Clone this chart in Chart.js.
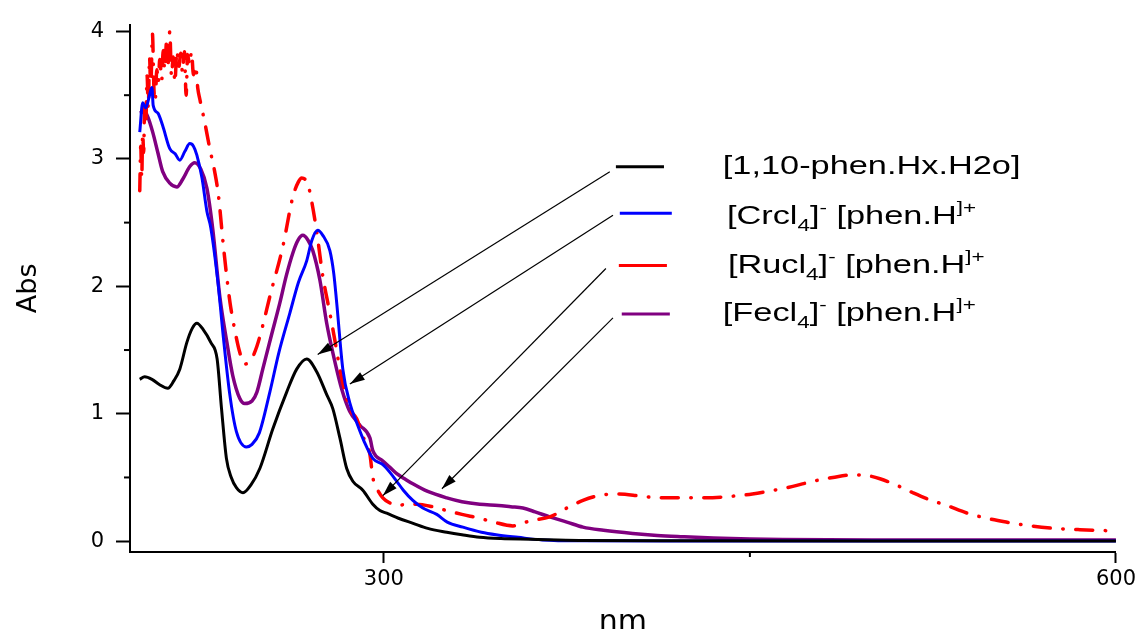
<!DOCTYPE html>
<html lang="en">
<head>
<meta charset="UTF-8">
<title>UV-Vis spectra</title>
<script src="https://cdn.jsdelivr.net/npm/chart.js@4.4.1/dist/chart.umd.min.js"></script>
<style>
  html, body { margin: 0; padding: 0; background: #fff; }
  #wrap { width: 1140px; height: 629px; position: relative; }
</style>
</head>
<body>
<div id="wrap"><canvas id="spec"></canvas></div>
<script>
// wavelength (nm) and absorbance
const phenNm  = [200, 202, 205, 208, 211.5, 214, 216.4, 219.3, 221.5, 223.4, 226, 229.1, 231.7, 233.5, 235.5, 237.5, 239.6, 242.3, 245.5, 249.2, 254.5, 260.2, 264.3, 268.4, 272.5, 276.6, 279.1, 282, 284.8, 287.3, 291.4, 295.5, 298.4, 301.2, 306, 312, 318, 325.8, 332, 339.3, 348, 360, 380, 420, 500, 600];
const phenAbs = [1.27, 1.29, 1.27, 1.23, 1.20, 1.26, 1.35, 1.56, 1.67, 1.71, 1.66, 1.56, 1.43, 1.04, 0.65, 0.50, 0.42, 0.38, 0.44, 0.57, 0.88, 1.17, 1.35, 1.43, 1.33, 1.15, 1.04, 0.81, 0.57, 0.47, 0.40, 0.29, 0.24, 0.22, 0.18, 0.14, 0.10, 0.07, 0.05, 0.03, 0.02, 0.015, 0.006, 0.003, 0.002, 0.002];

const crNm  = [200, 201.2, 202.5, 204, 205, 205.5, 207.4, 209.4, 212.3, 214.5, 216.4, 218.5, 220.5, 222, 223.4, 225.5, 227.5, 229.1, 232.1, 234.2, 236.9, 239.6, 243.7, 246, 249, 253.3, 257, 261.5, 265, 268.4, 270.5, 272.9, 275, 277.9, 279.5, 280.7, 283.2, 286, 289.3, 292, 295.5, 299.6, 302.5, 305.3, 308, 311.9, 316, 321.7, 326, 332.4, 340, 346, 355, 365, 380, 450, 600];
const crAbs = [3.21, 3.44, 3.40, 3.50, 3.56, 3.42, 3.36, 3.26, 3.08, 3.04, 2.99, 3.06, 3.12, 3.10, 3.03, 2.85, 2.59, 2.46, 2.02, 1.61, 1.15, 0.86, 0.74, 0.76, 0.85, 1.17, 1.48, 1.79, 2.03, 2.20, 2.36, 2.44, 2.40, 2.28, 2.10, 1.87, 1.35, 1.09, 0.91, 0.78, 0.65, 0.60, 0.54, 0.47, 0.40, 0.32, 0.26, 0.21, 0.15, 0.11, 0.07, 0.05, 0.03, 0.01, 0.003, 0.002, 0.002];

const ruNm  = [200, 200.4, 200.8, 201.2, 201.6, 202, 202.5, 203, 203.5, 204, 204.5, 205.2, 205.8, 206.3, 207, 207.6, 208.2, 209, 209.6, 210.2, 211, 211.6, 212.3, 213, 213.7, 214.4, 215.2, 216, 216.8, 217.5, 218.3, 219, 219.6, 220.4, 221.2, 222, 222.9, 223.8, 224.6, 226.6, 228.7, 230.7, 232.2, 234.2, 235.5, 237, 238.9, 241, 243, 245.5, 248, 250.5, 253.3, 258.6, 262.7, 265, 266.4, 268.9, 270.5, 272.5, 275, 277.9, 280, 282, 284, 286, 288.9, 291, 294.3, 295.5, 297, 299.6, 302.5, 305.3, 310, 313.5, 320, 325.8, 332, 339.3, 345, 352.9, 360, 368, 375, 381.6, 388.5, 395.5, 405, 413, 422, 432, 441, 451, 460, 467.6, 475.8, 484, 492.2, 498, 503.3, 510, 516.8, 523, 530.7, 539, 547, 555, 564.8, 575, 585.2, 600];
const ruAbs = [2.75, 3.10, 2.85, 3.20, 3.05, 3.45, 3.30, 3.65, 3.40, 3.80, 3.55, 3.98, 3.55, 3.45, 3.70, 3.60, 3.78, 3.62, 3.85, 3.70, 3.92, 3.75, 4.00, 3.65, 3.80, 3.60, 3.85, 3.72, 3.83, 3.68, 3.84, 3.50, 3.82, 3.74, 3.84, 3.66, 3.73, 3.55, 3.47, 3.29, 3.08, 2.90, 2.72, 2.33, 2.10, 1.87, 1.66, 1.48, 1.39, 1.42, 1.53, 1.70, 1.92, 2.31, 2.70, 2.82, 2.85, 2.80, 2.66, 2.43, 2.08, 1.79, 1.57, 1.35, 1.18, 1.04, 0.96, 0.84, 0.68, 0.50, 0.42, 0.34, 0.30, 0.28, 0.29, 0.29, 0.27, 0.24, 0.21, 0.18, 0.15, 0.12, 0.16, 0.19, 0.26, 0.32, 0.36, 0.37, 0.355, 0.34, 0.34, 0.34, 0.35, 0.37, 0.40, 0.43, 0.47, 0.50, 0.52, 0.515, 0.49, 0.44, 0.38, 0.33, 0.28, 0.22, 0.18, 0.15, 0.12, 0.10, 0.09, 0.08];

const feNm  = [200, 202, 203.3, 205.3, 207.4, 209.4, 212.3, 215.2, 217.6, 220.5, 222.5, 225, 227.5, 229.9, 232.8, 235.7, 238.1, 241, 243, 246, 248, 250.4, 254, 257.4, 260, 262.7, 264.8, 266.8, 269, 270.9, 273.8, 276.6, 279.1, 282.8, 286, 290.2, 294.3, 295.5, 299.6, 302.5, 305.3, 308.5, 311.9, 318, 325.8, 332, 339.3, 347, 352, 357, 362, 368, 375, 381.6, 390, 402, 412, 422.5, 435, 450, 463.5, 500, 600];
const feAbs = [3.36, 3.37, 3.33, 3.21, 3.05, 2.90, 2.81, 2.78, 2.84, 2.94, 2.97, 2.92, 2.77, 2.45, 1.92, 1.56, 1.30, 1.12, 1.08, 1.10, 1.17, 1.35, 1.62, 1.87, 2.08, 2.26, 2.36, 2.40, 2.36, 2.28, 2.05, 1.71, 1.48, 1.19, 1.02, 0.91, 0.81, 0.71, 0.63, 0.58, 0.53, 0.49, 0.45, 0.39, 0.34, 0.31, 0.29, 0.28, 0.27, 0.26, 0.23, 0.19, 0.15, 0.11, 0.085, 0.06, 0.045, 0.035, 0.025, 0.018, 0.014, 0.01, 0.01];

const seriesLabels = ['[1,10-phen.Hx.H2o]', '[Crcl4]- [phen.H]+', '[Rucl4]- [phen.H]+', '[Fecl4]- [phen.H]+'];
const seriesColors = ['#000000', '#0000ff', '#ff0000', '#800080'];

const xTicks = [300, 600];
const xMinorTicks = [450];
const yTicks = [0, 1, 2, 3, 4];
const yMinorTicks = [0.5, 1.5, 2.5, 3.5];

// legend pieces: text, n = normal, sub, sup
const legendParts = [
  [['[1,10-phen.Hx.H2o]', 'n']],
  [['[Crcl', 'n'], ['4', 'sub'], [']', 'n'], ['-', 'sup'], [' [phen.H', 'n'], [']+', 'sup']],
  [['[Rucl', 'n'], ['4', 'sub'], [']', 'n'], ['-', 'sup'], [' [phen.H', 'n'], [']+', 'sup']],
  [['[Fecl', 'n'], ['4', 'sub'], [']', 'n'], ['-', 'sup'], [' [phen.H', 'n'], [']+', 'sup']]
];
// legend placed in data units
const legendLineFrom = [395.1, 396.7, 396.3, 397.5];
const legendLineTo   = [414.8, 418.0, 416.0, 417.2];
const legendLineAbs  = [2.938, 2.574, 2.163, 1.783];
const legendTextNm   = [438.9, 440.6, 441.0, 438.9];
const legendTextAbs  = [2.884, 2.488, 2.101, 1.729];
// arrows from legend to curves
const arrowFromNm  = [392.6, 393.9, 391.0, 393.9];
const arrowFromAbs = [2.899, 2.558, 2.140, 1.752];
const arrowToNm    = [272.9, 286.1, 299.6, 323.8];
const arrowToAbs   = [1.465, 1.233, 0.357, 0.411];

function pts(xs, ys) {
  return xs.map((v, i) => ({ x: v, y: ys[i] }));
}

const annotate = {
  id: 'annotate',
  afterDatasetsDraw(chart) {
    const ctx = chart.ctx;
    const x = chart.scales.x, y = chart.scales.y;
    ctx.save();

    // minor ticks
    ctx.strokeStyle = '#000';
    ctx.lineWidth = 2;
    yMinorTicks.forEach(v => {
      const py = y.getPixelForValue(v);
      ctx.beginPath(); ctx.moveTo(x.left - 6, py); ctx.lineTo(x.left, py); ctx.stroke();
    });
    xMinorTicks.forEach(v => {
      const px = x.getPixelForValue(v);
      ctx.beginPath(); ctx.moveTo(px, y.bottom); ctx.lineTo(px, y.bottom + 5); ctx.stroke();
    });

    // arrows
    ctx.lineWidth = 1.2;
    ctx.fillStyle = '#000';
    for (let i = 0; i < arrowToNm.length; i++) {
      const x0 = x.getPixelForValue(arrowFromNm[i]), y0 = y.getPixelForValue(arrowFromAbs[i]);
      const x1 = x.getPixelForValue(arrowToNm[i]), y1 = y.getPixelForValue(arrowToAbs[i]);
      const a = Math.atan2(y1 - y0, x1 - x0);
      ctx.beginPath(); ctx.moveTo(x0, y0); ctx.lineTo(x1, y1); ctx.stroke();
      ctx.beginPath();
      ctx.moveTo(x1, y1);
      ctx.lineTo(x1 - 15 * Math.cos(a) + 4.5 * Math.sin(a), y1 - 15 * Math.sin(a) - 4.5 * Math.cos(a));
      ctx.lineTo(x1 - 15 * Math.cos(a) - 4.5 * Math.sin(a), y1 - 15 * Math.sin(a) + 4.5 * Math.cos(a));
      ctx.closePath();
      ctx.fill();
    }

    // legend lines
    ctx.lineWidth = 3;
    for (let i = 0; i < legendParts.length; i++) {
      const py = y.getPixelForValue(legendLineAbs[i]);
      ctx.strokeStyle = seriesColors[i];
      ctx.beginPath();
      ctx.moveTo(x.getPixelForValue(legendLineFrom[i]), py);
      ctx.lineTo(x.getPixelForValue(legendLineTo[i]), py);
      ctx.stroke();
    }

    // legend text (the original is stretched sideways)
    ctx.fillStyle = '#000';
    ctx.textBaseline = 'alphabetic';
    ctx.textAlign = 'left';
    const big = '26px "Liberation Sans", Arial, sans-serif';
    const small = '17px "Liberation Sans", Arial, sans-serif';
    for (let i = 0; i < legendParts.length; i++) {
      ctx.save();
      ctx.translate(x.getPixelForValue(legendTextNm[i]), y.getPixelForValue(legendTextAbs[i]));
      ctx.scale(1.32, 1);
      let cx = 0;
      legendParts[i].forEach(p => {
        ctx.font = p[1] === 'n' ? big : small;
        const dy = p[1] === 'sub' ? 7 : (p[1] === 'sup' ? -11 : 0);
        ctx.fillText(p[0], cx, dy);
        cx += ctx.measureText(p[0]).width;
      });
      ctx.restore();
    }
    ctx.restore();
  }
};

new Chart(document.getElementById('spec'), {
  type: 'line',
  data: {
    datasets: [
      { label: seriesLabels[0], data: pts(phenNm, phenAbs), borderColor: seriesColors[0], borderWidth: 3 },
      { label: seriesLabels[1], data: pts(crNm, crAbs), borderColor: seriesColors[1], borderWidth: 3 },
      { label: seriesLabels[2], data: pts(ruNm, ruAbs), borderColor: seriesColors[2], borderWidth: 3.5,
        borderDash: [17, 12.5, 0.5, 12.5], borderCapStyle: 'round' },
      { label: seriesLabels[3], data: pts(feNm, feAbs), borderColor: seriesColors[3], borderWidth: 3.5 }
    ]
  },
  options: {
    responsive: true,
    maintainAspectRatio: false,
    animation: false,
    elements: {
      point: { radius: 0 },
      line: { cubicInterpolationMode: 'monotone', borderJoinStyle: 'round', fill: false }
    },
    layout: { padding: { top: 18, right: 24, left: 0, bottom: 0 } },
    plugins: { legend: { display: false }, tooltip: { enabled: false } },
    scales: {
      x: {
        type: 'linear',
        min: 196,
        max: 600,
        afterBuildTicks: s => { s.ticks = xTicks.map(v => ({ value: v })); },
        afterFit: s => { s.height = 77; },
        grid: { drawOnChartArea: false, tickLength: 11, tickWidth: 2, color: '#000' },
        border: { color: '#000', width: 2 },
        ticks: { color: '#000', font: { family: 'DejaVu Sans', size: 21 }, padding: 4, maxRotation: 0, autoSkip: false },
        title: { display: true, text: 'nm', color: '#000',
          font: { family: 'DejaVu Sans', size: 30, lineHeight: 1 }, padding: { top: 0, bottom: -9 } }
      },
      y: {
        min: -0.085,
        max: 4.054,
        afterBuildTicks: s => { s.ticks = yTicks.map(v => ({ value: v })); },
        afterFit: s => { s.width = 130; },
        grid: { drawOnChartArea: false, tickLength: 14, tickWidth: 2, color: '#000' },
        border: { color: '#000', width: 2 },
        ticks: { color: '#000', font: { family: 'DejaVu Sans', size: 21 }, padding: 12 },
        title: { display: true, text: 'Abs', color: '#000',
          font: { family: 'DejaVu Sans', size: 27, lineHeight: 1 }, padding: { top: 15, bottom: 0 } }
      }
    }
  },
  plugins: [annotate]
});
</script>
</body>
</html>
